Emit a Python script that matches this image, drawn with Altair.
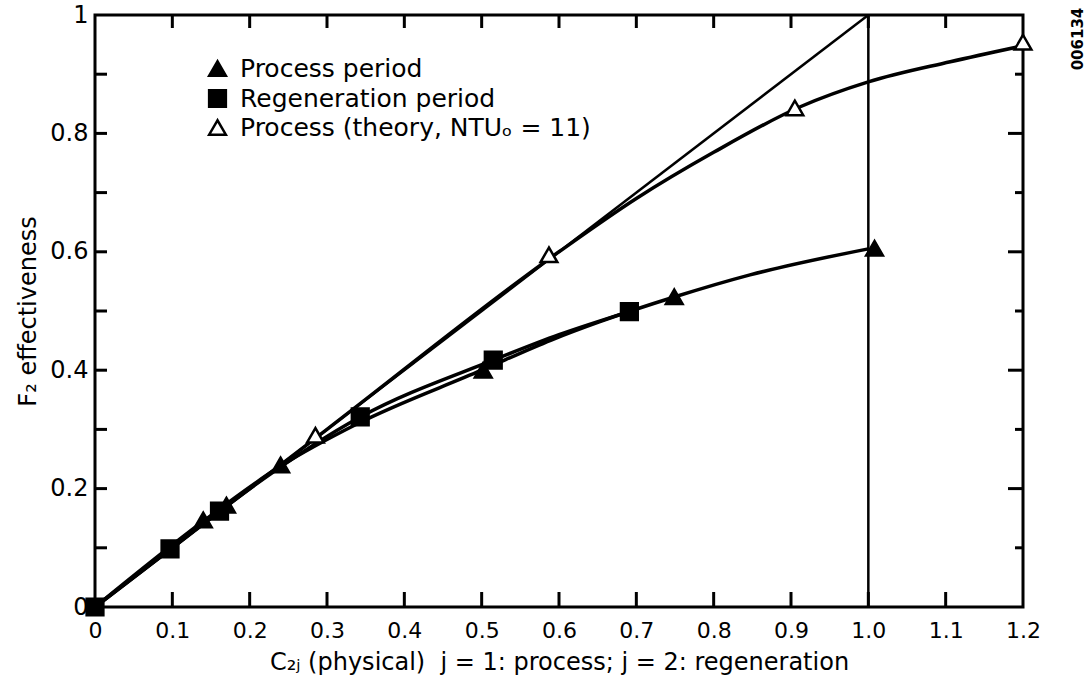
import altair as alt
import pandas as pd

# ---------------- data ----------------
names = ["Process period", "Regeneration period", "Process (theory, NTUₒ = 11)"]

proc_x = [0.140, 0.170, 0.240, 0.502, 0.749, 1.008]
proc_y = [0.147, 0.172, 0.240, 0.400, 0.524, 0.606]

regen_x = [0.0, 0.097, 0.161, 0.343, 0.515, 0.691]
regen_y = [0.0, 0.098, 0.162, 0.321, 0.417, 0.499]

theory_x = [0.285, 0.587, 0.905, 1.200]
theory_y = [0.290, 0.595, 0.843, 0.954]

# smooth curves (knots)
theory_curve_x = [0.0, 0.3, 0.6, 0.7, 0.8, 0.912, 1.0, 1.106, 1.2]
theory_curve_y = [0.0, 0.3, 0.6, 0.69, 0.768, 0.845, 0.887, 0.921, 0.948]
proc_curve_x = [0.0, 0.14, 0.24, 0.34, 0.5, 0.59, 0.653, 0.75, 0.847, 1.0]
proc_curve_y = [0.0, 0.145, 0.238, 0.31, 0.40, 0.451, 0.482, 0.524, 0.561, 0.605]
regen_curve_x = [0.0, 0.1, 0.161, 0.343, 0.515, 0.6, 0.691]
regen_curve_y = [0.0, 0.1, 0.162, 0.321, 0.417, 0.46, 0.499]

# straight reference lines
diag_x = [0.0, 1.0]
diag_y = [0.0, 1.0]
vert_x = [1.0, 1.0]
vert_y = [0.0, 1.0]

# axis ticks / labels
x_label_values = [0.0, 0.1, 0.2, 0.3, 0.4, 0.5, 0.6, 0.7, 0.8, 0.9, 1.0, 1.1, 1.2]
y_label_values = [0.0, 0.2, 0.4, 0.6, 0.8, 1.0]
x_tick_values = [0.1, 0.2, 0.3, 0.4, 0.5, 0.6, 0.7, 0.8, 0.9, 1.0, 1.1]
y_tick_minor = [0.1, 0.3, 0.5, 0.7, 0.9]
y_tick_major = [0.2, 0.4, 0.6, 0.8]
y_tick_all = [0.1, 0.2, 0.3, 0.4, 0.5, 0.6, 0.7, 0.8, 0.9]

x_title = "C₂ⱼ (physical) \u00a0j = 1: process; j = 2: regeneration"
y_title = "F₂ effectiveness"
stamp_text = "006134"

# ---------------- tables ----------------
pts = pd.DataFrame(
    {
        "x": proc_x + regen_x + theory_x,
        "y": proc_y + regen_y + theory_y,
        "series": [names[0]] * len(proc_x) + [names[1]] * len(regen_x) + [names[2]] * len(theory_x),
    }
)

curves = pd.DataFrame(
    {
        "x": theory_curve_x + proc_curve_x + regen_curve_x,
        "y": theory_curve_y + proc_curve_y + regen_curve_y,
        "curve": ["theory"] * len(theory_curve_x) + ["proc"] * len(proc_curve_x) + ["regen"] * len(regen_curve_x),
    }
)

straight = pd.DataFrame(
    {
        "x": diag_x + vert_x,
        "y": diag_y + vert_y,
        "line": ["diag"] * 2 + ["vert"] * 2,
        "i": [0, 1, 0, 1],
    }
)

W, H = 928, 592
FONT = "DejaVu Sans"

xscale = alt.Scale(domain=[0, 1.2], nice=False, zero=False)
yscale = alt.Scale(domain=[0, 1], nice=False, zero=False)

x_axis = alt.Axis(
    values=x_label_values,
    labelExpr="datum.value == 0 ? '0' : format(datum.value, '.1f')",
    ticks=False,
    domain=False,
    grid=False,
    labelFontSize=22,
    labelPadding=13,
    labelFlush=False,
    labelOverlap=False,
    title=x_title,
    titleFontSize=24,
    titleFontWeight="normal",
    titlePadding=9,
)
y_axis = alt.Axis(
    values=y_label_values,
    labelExpr="datum.value == 0 ? '0' : datum.value == 1 ? '1' : format(datum.value, '.1f')",
    ticks=False,
    domain=False,
    grid=False,
    labelFontSize=24,
    labelPadding=7,
    labelFlush=False,
    labelOverlap=False,
    title=y_title,
    titleFontSize=24,
    titleFontWeight="normal",
    titlePadding=9,
)


def X(field="x"):
    return alt.X(f"{field}:Q", scale=xscale, axis=x_axis)


def Y(field="y"):
    return alt.Y(f"{field}:Q", scale=yscale, axis=y_axis)


base_lines = (
    alt.Chart(straight)
    .mark_line(color="black", strokeWidth=2.5)
    .encode(x=X(), y=Y(), detail="line:N", order="i:Q")
)

curve_lines = (
    alt.Chart(curves)
    .mark_line(color="black", strokeWidth=3.5, interpolate="monotone")
    .encode(x=X(), y=Y(), detail="curve:N")
)

legend = alt.Legend(
    orient="none",
    legendX=110,
    legendY=41,
    title=None,
    labelFontSize=25,
    labelFont=FONT,
    labelColor="black",
    labelLimit=0,
    labelOffset=10,
    symbolSize=280,
    symbolStrokeWidth=2.5,
    symbolStrokeColor="black",
    rowPadding=3,
    padding=0,
)

points = (
    alt.Chart(pts)
    .mark_point(filled=True, strokeWidth=2.5, opacity=1, size=280)
    .encode(
        x=X(),
        y=Y(),
        shape=alt.Shape(
            "series:N",
            scale=alt.Scale(domain=names, range=["triangle-up", "square", "triangle-up"]),
            legend=legend,
        ),
        fill=alt.Fill(
            "series:N",
            scale=alt.Scale(domain=names, range=["black", "black", "white"]),
            legend=legend,
        ),
        stroke=alt.Stroke(
            "series:N",
            scale=alt.Scale(domain=names, range=["black", "black", "black"]),
            legend=legend,
        ),
    )
)


def rule_layer(values, channel, a, b):
    df = pd.DataFrame({"v": values})
    if channel == "x":
        enc = dict(x=X("v"), y=alt.value(a), y2=alt.value(b))
    else:
        enc = dict(y=Y("v"), x=alt.value(a), x2=alt.value(b))
    return alt.Chart(df).mark_rule(color="black", strokeWidth=3).encode(**enc)


ticks_bottom = rule_layer(x_tick_values, "x", H, H - 15)
ticks_top = rule_layer(x_tick_values, "x", 0, 13)
ticks_left = rule_layer(y_tick_all, "y", 0, 12)
ticks_right_major = rule_layer(y_tick_major, "y", W, W - 15)
ticks_right_minor = rule_layer(y_tick_minor, "y", W, W - 8)

stamp = (
    alt.Chart(pd.DataFrame({"t": [stamp_text]}))
    .mark_text(angle=270, fontSize=15, fontWeight="bold", font=FONT, color="black")
    .encode(text="t:N", x=alt.value(W + 55), y=alt.value(24))
)

chart = (
    alt.layer(
        base_lines,
        curve_lines,
        ticks_bottom,
        ticks_top,
        ticks_left,
        ticks_right_major,
        ticks_right_minor,
        points,
        stamp,
    )
    .properties(
        width=W,
        height=H,
        autosize=alt.AutoSizeParams(type="none"),
        padding={"left": 95, "top": 15, "right": 64, "bottom": 74},
        background="white",
    )
    .configure_view(stroke="black", strokeWidth=3)
    .configure_axis(labelFont=FONT, titleFont=FONT, labelColor="black", titleColor="black")
    .configure_text(font=FONT)
)

chart.save("out.html", embed_options={"renderer": "svg", "actions": False})
